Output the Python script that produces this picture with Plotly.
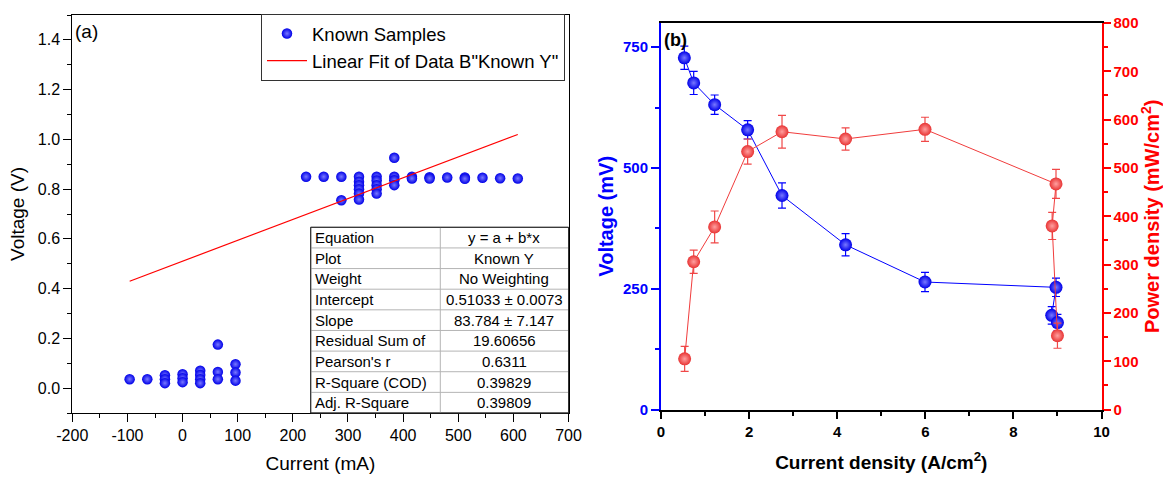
import plotly.graph_objects as go

# ---------------- Panel (a) data ----------------
known_x = [-96, -64,
           -32, -32, -32,
           0, 0, 0,
           32, 32, 32, 32,
           64, 64, 64,
           96, 96, 96,
           224, 256,
           288, 288,
           320, 320, 320, 320, 320, 320,
           352, 352, 352, 352, 352,
           384, 384, 384, 384,
           416, 416,
           448, 448,
           480,
           512, 512,
           544, 576, 608]
known_y = [0.036, 0.036,
           0.052, 0.036, 0.020,
           0.056, 0.040, 0.024,
           0.070, 0.053, 0.036, 0.020,
           0.175, 0.065, 0.036,
           0.096, 0.063, 0.030,
           0.850, 0.850,
           0.850, 0.755,
           0.850, 0.830, 0.816, 0.800, 0.782, 0.758,
           0.850, 0.835, 0.816, 0.800, 0.782,
           0.926, 0.850, 0.836, 0.816,
           0.850, 0.843,
           0.848, 0.843,
           0.847,
           0.847, 0.842,
           0.846, 0.844, 0.843]

fit_intercept = 0.51033
fit_slope = 83.784
fit_slope_unit = 1e-5   # slope reported per unit differing from mA axis

table_labels = ["Equation", "Plot", "Weight", "Intercept", "Slope",
                "Residual Sum of", "Pearson's r", "R-Square (COD)", "Adj. R-Square"]
table_values = ["y = a + b*x", "Known Y", "No Weighting", "0.51033 ± 0.0073",
                "83.784 ± 7.147", "19.60656", "0.6311", "0.39829", "0.39809"]

a_xticks = [-200, -100, 0, 100, 200, 300, 400, 500, 600, 700]
a_xticktext = ["-200", "-100", "0", "100", "200", "300", "400", "500", "600", "700"]
a_yticks = [0.0, 0.2, 0.4, 0.6, 0.8, 1.0, 1.2, 1.4]
a_yticktext = ["0.0", "0.2", "0.4", "0.6", "0.8", "1.0", "1.2", "1.4"]

# ---------------- Panel (b) data ----------------
volt_x = [0.53, 0.742, 1.218, 1.967, 2.747, 4.19, 5.993, 8.967, 8.87, 9.0]
volt_y = [728, 676, 631, 579, 443, 341, 264, 253, 195, 180]
volt_err = [24, 24, 20, 19, 26, 23, 20, 19, 18, 17]

power_x = [0.537, 0.742, 1.218, 1.967, 2.747, 4.19, 5.993, 8.967, 8.88, 9.0]
power_y = [105, 306, 378, 534, 575, 560, 580, 467, 380, 153]
power_err = [26, 24, 33, 26, 34, 23, 25, 30, 28, 26]

b_yticks_left = [0, 250, 500, 750]

FONT = "Arial, Liberation Sans, sans-serif"
W, H = 1163, 477

def px_x(p):
    return p / W

def px_y(p):
    return 1 - p / H

fig = go.Figure()

# Panel (a)
fig.add_trace(go.Scatter(
    x=known_x, y=known_y, mode="markers", name="Known Samples",
    marker=dict(size=10.5, color="#0000e8", line=dict(width=0),
                gradient=dict(type="radial", color="#7878ff")),
    xaxis="x", yaxis="y"))

fit_x = [min(known_x), max(known_x)]
fit_y = [fit_intercept + fit_slope * fit_slope_unit * v for v in fit_x]
fig.add_trace(go.Scatter(
    x=fit_x, y=fit_y, mode="lines", name='Linear Fit of Data B"Known Y"',
    line=dict(color="#ff0000", width=1.2), xaxis="x", yaxis="y"))

# Panel (b)
fig.add_trace(go.Scatter(
    x=volt_x, y=volt_y, mode="lines+markers", showlegend=False,
    line=dict(color="#0000ff", width=1),
    marker=dict(size=13, color="#0000e8", line=dict(width=0),
                gradient=dict(type="radial", color="#7878ff")),
    error_y=dict(type="data", array=volt_err, color="#0000ff", thickness=1.2, width=4),
    xaxis="x2", yaxis="y2"))

fig.add_trace(go.Scatter(
    x=power_x, y=power_y, mode="lines+markers", showlegend=False,
    line=dict(color="#f03c3c", width=1),
    marker=dict(size=13, color="#e83434", line=dict(width=0),
                gradient=dict(type="radial", color="#ffa0a0")),
    error_y=dict(type="data", array=power_err, color="#f04848", thickness=1.2, width=4),
    xaxis="x2", yaxis="y3"))

# ---------------- Fit result table (panel a) ----------------
T_LEFT, T_DIV, T_RIGHT = 310.7, 440.3, 568.5
T_TOP, T_BOTTOM = 227.3, 413.0
n_rows = len(table_labels)
row_h = (T_BOTTOM - T_TOP) / n_rows

annotations = []
shapes = []
for i, (lab, val) in enumerate(zip(table_labels, table_values)):
    yc = T_TOP + (i + 0.5) * row_h
    annotations.append(dict(text=lab, x=px_x(T_LEFT + 2), y=px_y(yc), xref="paper", yref="paper",
                            xanchor="left", yanchor="middle", showarrow=False,
                            font=dict(family=FONT, size=15, color="black")))
    annotations.append(dict(text=val, x=px_x((T_DIV + T_RIGHT) / 2), y=px_y(yc),
                            xref="paper", yref="paper",
                            xanchor="center", yanchor="middle", showarrow=False,
                            font=dict(family=FONT, size=15, color="black")))
    if i > 0:
        yl = T_TOP + i * row_h
        shapes.append(dict(type="line", xref="paper", yref="paper",
                           x0=px_x(T_LEFT), x1=px_x(T_RIGHT), y0=px_y(yl), y1=px_y(yl),
                           line=dict(color="#b4b4b4", width=1), layer="above"))
shapes.append(dict(type="line", xref="paper", yref="paper",
                   x0=px_x(T_DIV), x1=px_x(T_DIV), y0=px_y(T_TOP), y1=px_y(T_BOTTOM),
                   line=dict(color="#b4b4b4", width=1), layer="above"))
shapes.append(dict(type="rect", xref="paper", yref="paper",
                   x0=px_x(T_LEFT), x1=px_x(T_RIGHT), y0=px_y(T_BOTTOM), y1=px_y(T_TOP),
                   line=dict(color="#333333", width=1), fillcolor="white", layer="below"))
shapes.append(dict(type="rect", xref="paper", yref="paper",
                   x0=px_x(T_LEFT), x1=px_x(T_RIGHT), y0=px_y(T_BOTTOM), y1=px_y(T_TOP),
                   line=dict(color="#333333", width=1), fillcolor="rgba(0,0,0,0)", layer="above"))

annotations += [
    dict(text="(a)", x=px_x(73), y=px_y(31), xref="paper", yref="paper",
         xanchor="left", yanchor="middle", showarrow=False,
         font=dict(family=FONT, size=19, color="black")),
    dict(text="<b>(b)</b>", x=px_x(662), y=px_y(40), xref="paper", yref="paper",
         xanchor="left", yanchor="middle", showarrow=False,
         font=dict(family=FONT, size=18, color="black")),
]

tickfont_a = dict(family=FONT, size=16, color="black")

fig.update_layout(
    template="none",
    width=W, height=H, autosize=False,
    margin=dict(l=0, r=0, t=0, b=0, pad=0),
    paper_bgcolor="white", plot_bgcolor="rgba(0,0,0,0)",
    font=dict(family=FONT, color="black"),
    showlegend=True,
    legend=dict(x=px_x(261), y=px_y(14), xanchor="left", yanchor="top",
                bordercolor="#333333", borderwidth=1, bgcolor="white",
                font=dict(family=FONT, size=18.5, color="black"),
                tracegroupgap=0, itemwidth=40),
    xaxis=dict(domain=[px_x(72.3), px_x(568.5)], anchor="y", automargin=False,
               range=[-200, 700], tickmode="array", tickvals=a_xticks, ticktext=a_xticktext,
               ticks="outside", ticklen=8, tickwidth=1, tickcolor="black",
               minor=dict(dtick=50, tick0=-200, ticks="outside", ticklen=4, tickcolor="black"),
               showline=True, linecolor="black", linewidth=1, mirror=True,
               showgrid=False, zeroline=False, tickfont=tickfont_a,
               title=dict(text="Current (mA)", font=dict(family=FONT, size=19), standoff=13)),
    yaxis=dict(domain=[px_y(413), px_y(15)], anchor="x", automargin=False,
               range=[-0.1, 1.5], tickmode="array", tickvals=a_yticks, ticktext=a_yticktext,
               ticks="outside", ticklen=8, tickwidth=1, tickcolor="black",
               minor=dict(dtick=0.1, tick0=0, ticks="outside", ticklen=4, tickcolor="black"),
               showline=True, linecolor="black", linewidth=1, mirror=True,
               showgrid=False, zeroline=False, tickfont=tickfont_a,
               title=dict(text="Voltage (V)", font=dict(family=FONT, size=19), standoff=8)),
    xaxis2=dict(domain=[px_x(661), px_x(1101.5)], anchor="y2", automargin=False,
                range=[0, 10], dtick=2, tick0=0,
                ticks="outside", ticklen=7, tickwidth=2, tickcolor="black",
                minor=dict(dtick=1, tick0=0, ticks="outside", ticklen=4, tickwidth=2, tickcolor="black"),
                showline=True, linecolor="black", linewidth=2, mirror=True,
                showgrid=False, zeroline=False,
                tickfont=dict(family=FONT, size=15, color="black", weight="bold"),
                title=dict(text="Current density (A/cm<sup>2</sup>)",
                           font=dict(family=FONT, size=19, color="black", weight="bold"), standoff=17)),
    yaxis2=dict(domain=[px_y(409.6), px_y(23)], anchor="x2", automargin=False,
                range=[0, 800], tickmode="array", tickvals=b_yticks_left,
                ticks="outside", ticklen=8, tickwidth=2, tickcolor="#0000ff",
                minor=dict(dtick=125, tick0=0, ticks="outside", ticklen=4, tickwidth=2, tickcolor="#0000ff"),
                showline=True, linecolor="#0000ff", linewidth=2,
                showgrid=False, zeroline=False,
                tickfont=dict(family=FONT, size=15, color="#0000ff", weight="bold"),
                title=dict(text="Voltage (mV)",
                           font=dict(family=FONT, size=20, color="#0000ff", weight="bold"), standoff=4)),
    yaxis3=dict(overlaying="y2", side="right", anchor="x2", automargin=False,
                range=[0, 800], dtick=100, tick0=0,
                ticks="outside", ticklen=7, tickwidth=2, tickcolor="#ff0000",
                minor=dict(dtick=50, tick0=0, ticks="outside", ticklen=4, tickwidth=2, tickcolor="#ff0000"),
                showline=True, linecolor="#ff0000", linewidth=2,
                showgrid=False, zeroline=False,
                tickfont=dict(family=FONT, size=15, color="#ff0000", weight="bold"),
                title=dict(text="Power density (mW/cm<sup>2</sup>)",
                           font=dict(family=FONT, size=20, color="#ff0000", weight="bold"), standoff=10)),
    annotations=annotations,
    shapes=shapes,
)

fig.write_html("out.html", config={"displayModeBar": False},
               post_script="document.body.style.margin='0px';document.body.style.overflow='hidden';")
